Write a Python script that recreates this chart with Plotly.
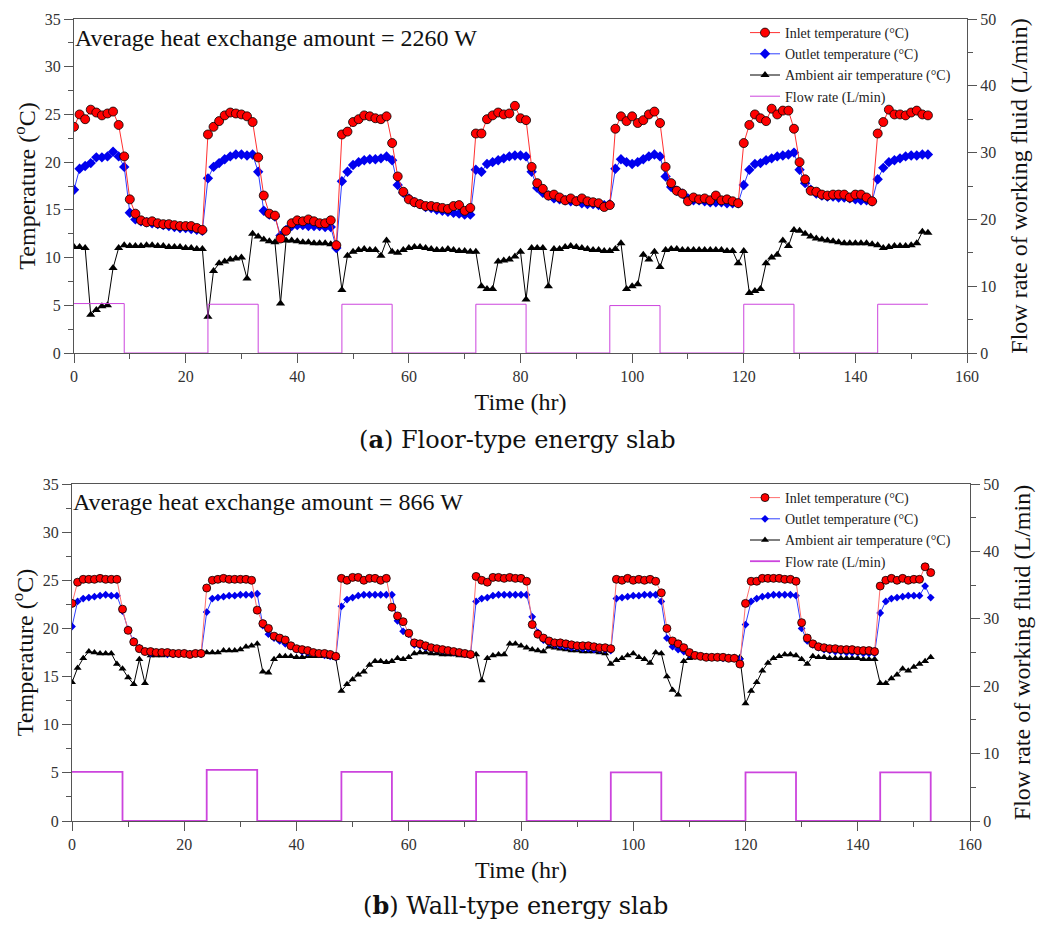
import plotly.graph_objects as go

# ---------------- data ----------------
hours = list(range(0, 154))

# (a) Floor-type energy slab
inlet_a = [23.7, 25.0, 24.5, 25.5, 25.2, 24.9, 25.1, 25.3, 23.9, 20.6,
           16.1, 14.6, 13.9, 13.7, 13.8, 13.6, 13.5, 13.5, 13.4, 13.3,
           13.3, 13.3, 13.1, 12.9, 22.9, 23.7, 24.3, 24.9, 25.2, 25.1,
           25.0, 24.8, 24.2, 20.5, 16.5, 14.6, 14.4, 12.0, 12.8, 13.6,
           13.9, 13.8, 14.0, 13.8, 13.6, 13.6, 13.9, 11.3, 22.9, 23.2,
           24.2, 24.5, 24.9, 24.8, 24.6, 24.5, 24.8, 22.0, 18.5, 16.9,
           16.1, 15.8, 15.6, 15.4, 15.4, 15.3, 15.2, 15.1, 15.4, 15.5,
           14.9, 15.2, 23.0, 23.0, 24.5, 24.9, 25.2, 25.0, 25.1, 25.9,
           24.6, 24.4, 19.5, 17.8, 17.2, 16.5, 16.6, 16.3, 16.0, 16.2,
           15.9, 16.2, 15.9, 15.8, 15.7, 15.3, 15.5, 23.5, 24.8, 24.3,
           24.8, 24.1, 24.4, 25.0, 25.3, 24.1, 19.5, 17.8, 17.0, 16.7,
           15.9, 16.3, 16.1, 16.2, 16.0, 16.5, 16.0, 16.1, 15.9, 15.7,
           22.0, 23.9, 25.0, 24.6, 24.3, 25.6, 25.0, 25.4, 25.4, 23.5,
           20.0, 18.2, 17.0, 16.9, 16.6, 16.5, 16.6, 16.6, 16.6, 16.3,
           16.6, 16.6, 16.3, 15.9, 23.0, 24.2, 25.5, 25.0, 25.0, 24.9,
           25.2, 25.4, 25.0, 24.9]
outlet_a = [17.1, 19.3, 19.6, 19.9, 20.5, 20.5, 20.6, 21.1, 20.6, 19.5,
            14.7, 14.0, 13.8, 13.7, 13.6, 13.5, 13.4, 13.3, 13.2, 13.1,
            13.1, 13.0, 12.9, 12.8, 18.3, 19.5, 19.9, 20.3, 20.6, 20.8,
            20.8, 20.7, 20.8, 19.0, 14.9, 14.5, 14.3, 12.3, 12.9, 13.3,
            13.4, 13.4, 13.3, 13.3, 13.3, 13.2, 13.2, 11.0, 18.0, 19.0,
            19.7, 20.0, 20.2, 20.3, 20.3, 20.4, 20.6, 20.2, 17.6, 16.8,
            16.2, 15.8, 15.6, 15.3, 15.2, 15.0, 14.9, 14.8, 14.7, 14.6,
            14.5, 14.5, 19.2, 19.0, 19.8, 20.0, 20.2, 20.4, 20.6, 20.7,
            20.7, 20.6, 19.0, 17.3, 16.8, 16.5, 16.2, 16.1, 16.0, 15.9,
            15.9, 15.7, 15.6, 15.6, 15.5, 15.5, 15.6, 19.3, 20.3, 20.0,
            19.8, 20.0, 20.3, 20.6, 20.8, 20.6, 18.5, 17.4, 17.0, 16.7,
            16.2, 16.0, 16.0, 15.9, 15.8, 15.8, 15.8, 15.7, 15.7, 15.7,
            17.6, 19.2, 19.8, 19.9, 20.2, 20.4, 20.6, 20.7, 20.8, 21.0,
            19.2, 17.8, 17.1, 16.7, 16.5, 16.4, 16.4, 16.3, 16.3, 16.2,
            16.1, 16.0, 16.0, 15.9, 18.2, 19.4, 20.0, 20.2, 20.4, 20.6,
            20.7, 20.7, 20.8, 20.8]
ambient_a = [11.1, 11.1, 11.0, 4.0, 4.5, 4.9, 5.0, 8.9, 11.0, 11.3,
             11.2, 11.2, 11.2, 11.3, 11.3, 11.2, 11.2, 11.1, 11.1, 11.1,
             11.0, 11.0, 10.9, 10.9, 3.8, 8.6, 9.4, 9.6, 9.8, 9.9,
             10.0, 7.8, 12.5, 12.2, 11.9, 11.7, 11.6, 5.2, 11.8, 11.8,
             11.7, 11.6, 11.6, 11.5, 11.5, 11.5, 11.4, 11.4, 6.6, 10.2,
             10.6, 10.8, 10.9, 10.8, 10.8, 10.2, 11.8, 10.6, 10.5, 10.8,
             11.0, 11.1, 11.1, 11.0, 10.9, 10.8, 10.8, 10.9, 10.8, 10.7,
             10.7, 10.6, 10.6, 7.0, 6.7, 6.7, 9.6, 9.7, 9.8, 10.1,
             10.6, 5.6, 11.0, 11.0, 11.0, 7.0, 10.9, 10.9, 11.1, 11.2,
             11.1, 11.0, 10.9, 10.8, 10.8, 10.7, 10.7, 10.9, 11.5, 6.7,
             7.0, 7.2, 10.3, 9.8, 10.6, 9.0, 10.8, 10.9, 10.9, 10.8,
             10.8, 10.8, 10.8, 10.8, 10.8, 10.8, 10.8, 10.7, 10.7, 9.4,
             10.7, 6.3, 6.5, 6.7, 9.4, 10.0, 10.3, 11.8, 11.2, 12.9,
             12.8, 12.5, 12.2, 12.0, 11.9, 11.8, 11.7, 11.6, 11.5, 11.5,
             11.5, 11.5, 11.5, 11.4, 11.3, 11.0, 11.1, 11.2, 11.2, 11.2,
             11.3, 11.5, 12.7, 12.6]
flow_t_a = [0, 9, 24, 33, 48, 57, 72, 81, 96, 105, 120, 129, 144, 153]
flow_a = [7.4, 0, 7.3, 0, 7.3, 0, 7.3, 0, 7.1, 0, 7.3, 0, 7.3, 7.3]

# (b) Wall-type energy slab
inlet_b = [22.6, 24.8, 25.1, 25.1, 25.1, 25.2, 25.1, 25.1, 25.1, 22.0,
           19.8, 18.6, 17.9, 17.6, 17.6, 17.5, 17.5, 17.5, 17.4, 17.4,
           17.4, 17.3, 17.4, 17.4, 24.2, 25.0, 25.1, 25.2, 25.1, 25.1,
           25.1, 25.1, 25.0, 21.9, 20.5, 20.0, 19.2, 19.0, 18.8, 18.2,
           17.9, 17.8, 17.7, 17.5, 17.4, 17.4, 17.3, 17.1, 25.2, 25.0,
           25.3, 25.3, 25.0, 25.2, 25.2, 25.0, 25.2, 22.2, 21.3, 20.7,
           19.5, 18.5, 18.4, 18.2, 18.0, 17.9, 17.8, 17.7, 17.6, 17.5,
           17.4, 17.3, 25.4, 25.0, 24.8, 25.3, 25.3, 25.2, 25.3, 25.2,
           25.2, 24.9, 20.4, 19.4, 19.0, 18.7, 18.5, 18.5, 18.4, 18.3,
           18.2, 18.2, 18.2, 18.1, 18.0, 18.0, 17.9, 25.1, 25.0, 25.2,
           25.0, 25.1, 25.0, 25.1, 24.9, 23.7, 20.0, 18.7, 18.4, 18.0,
           17.5, 17.2, 17.1, 17.0, 17.0, 17.0, 17.0, 16.9, 16.9, 16.3,
           22.6, 24.9, 24.9, 25.2, 25.2, 25.2, 25.2, 25.1, 25.1, 24.9,
           20.6, 19.0, 18.4, 18.1, 18.0, 17.9, 17.9, 17.8, 17.8, 17.8,
           17.7, 17.7, 17.7, 17.6, 24.4, 25.0, 25.2, 25.0, 25.2, 25.0,
           25.1, 25.1, 26.4, 25.8]
outlet_b = [20.2, 22.8, 23.1, 23.2, 23.3, 23.4, 23.5, 23.4, 23.4, 21.8,
            19.9, 18.7, 18.0, 17.6, 17.4, 17.4, 17.4, 17.3, 17.3, 17.3,
            17.4, 17.3, 17.4, 17.3, 21.7, 23.1, 23.2, 23.3, 23.4, 23.4,
            23.5, 23.5, 23.5, 23.6, 20.3, 19.4, 19.0, 18.7, 18.4, 18.1,
            17.8, 17.6, 17.5, 17.4, 17.3, 17.2, 17.1, 17.0, 22.3, 23.0,
            23.2, 23.4, 23.5, 23.5, 23.5, 23.5, 23.5, 23.5, 20.8, 19.7,
            19.4, 18.3, 18.2, 18.0, 17.9, 17.8, 17.7, 17.6, 17.5, 17.4,
            17.3, 17.2, 22.8, 23.1, 23.2, 23.4, 23.5, 23.5, 23.5, 23.5,
            23.5, 23.5, 21.2, 19.6, 18.8, 18.5, 18.3, 18.2, 18.1, 18.0,
            18.0, 17.9, 17.9, 17.8, 17.8, 17.8, 17.7, 23.1, 23.2, 23.3,
            23.4, 23.4, 23.5, 23.5, 23.5, 22.8, 19.0, 18.1, 17.8, 17.6,
            17.3, 17.2, 17.1, 17.0, 17.0, 17.0, 16.9, 16.9, 16.9, 16.8,
            20.4, 22.8, 23.1, 23.3, 23.4, 23.5, 23.5, 23.5, 23.5, 23.4,
            20.0, 18.7, 18.3, 18.0, 17.8, 17.7, 17.6, 17.6, 17.5, 17.5,
            17.5, 17.4, 17.4, 17.4, 21.6, 22.8, 23.1, 23.2, 23.3, 23.4,
            23.4, 23.4, 24.4, 23.2]
ambient_b = [14.4, 15.9, 16.9, 17.6, 17.5, 17.4, 17.4, 17.4, 16.3, 15.8,
             14.9, 14.2, 16.8, 14.3, 17.2, 17.2, 17.2, 17.3, 17.3, 17.3,
             17.4, 17.4, 17.4, 17.4, 17.5, 17.5, 17.5, 17.7, 17.7, 17.7,
             17.8, 18.1, 18.2, 18.4, 15.5, 15.4, 16.8, 17.1, 17.1, 17.1,
             17.0, 17.0, 17.1, 17.1, 17.1, 17.1, 17.0, 16.9, 13.5, 14.2,
             14.7, 15.2, 15.5, 16.2, 16.6, 16.6, 16.5, 16.6, 16.9, 16.8,
             17.0, 17.4, 17.5, 17.5, 17.4, 17.4, 17.3, 17.3, 17.3, 17.2,
             17.2, 17.1, 17.3, 14.6, 16.9, 17.2, 17.3, 17.3, 18.4, 18.4,
             18.2, 18.0, 17.8, 17.7, 17.6, 18.1, 18.0, 17.9, 17.8, 17.7,
             17.7, 17.6, 17.6, 17.6, 17.5, 17.4, 16.3, 16.7, 16.9, 17.2,
             17.4, 17.0, 16.8, 16.4, 17.5, 17.4, 15.0, 13.6, 13.1, 16.6,
             16.9, 17.2, 17.1, 17.1, 17.0, 17.0, 17.0, 17.0, 17.0, 17.0,
             12.2, 13.5, 14.4, 15.6, 16.4, 16.9, 17.1, 17.3, 17.3, 17.2,
             16.8, 16.3, 17.1, 17.0, 17.0, 16.9, 16.9, 16.9, 16.9, 16.9,
             16.9, 16.8, 16.8, 16.8, 14.3, 14.3, 14.8, 15.2, 15.8, 15.6,
             16.0, 16.3, 16.6, 17.0]
flow_t_b = [0, 9, 24, 33, 48, 57, 72, 81, 96, 105, 120, 129, 144, 153]
flow_b = [7.3, 0, 7.6, 0, 7.3, 0, 7.3, 0, 7.2, 0, 7.2, 0, 7.2, 0]

names = ["Inlet temperature (\u00b0C)", "Outlet temperature (\u00b0C)",
         "Ambient air temperature (\u00b0C)", "Flow rate (L/min)"]
heat_a = "Average heat exchange amount = 2260 W"
heat_b = "Average heat exchange amount = 866 W"
caption_a = "(<b>a</b>) Floor-type energy slab"
caption_b = "(<b>b</b>) Wall-type energy slab"

# ---------------- figure ----------------
FONT = "Times New Roman, Liberation Serif, serif"
CAPFONT = "DejaVu Serif, Liberation Serif, serif"
# the page body adds an 8 px offset, so the figure is laid out 8 px smaller
W, H = 1048, 917
fig = go.Figure()

def add_panel(xa, ya, ya2, leg, inlet, outlet, ambient, ft, fl, big):
    fig.add_trace(go.Scatter(x=ft, y=fl, mode="lines", line=dict(color="#CC44DD", width=1.0 if big else 1.8, shape="hv"),
                             name=names[3], xaxis=xa, yaxis=ya2, legend=leg, legendrank=4))
    fig.add_trace(go.Scatter(x=hours, y=ambient, mode="lines+markers", line=dict(color="#000000", width=1),
                             marker=dict(symbol="triangle-up", size=8 if big else 7, color="#000000"),
                             name=names[2], xaxis=xa, yaxis=ya, legend=leg, legendrank=3))
    fig.add_trace(go.Scatter(x=hours, y=outlet, mode="lines+markers", line=dict(color="#3040FF", width=1),
                             marker=dict(symbol="diamond", size=8 if big else 6, color="#0000EE"),
                             name=names[1], xaxis=xa, yaxis=ya, legend=leg, legendrank=2))
    fig.add_trace(go.Scatter(x=hours, y=inlet, mode="lines+markers", line=dict(color="#FF3030" if big else "#FF7070", width=1),
                             marker=dict(symbol="circle", size=9 if big else 8, color="#FF0000",
                                         line=dict(color="#000000", width=0.8)),
                             name=names[0], xaxis=xa, yaxis=ya, legend=leg, legendrank=1))

add_panel("x", "y", "y2", "legend", inlet_a, outlet_a, ambient_a, flow_t_a, flow_a, True)
add_panel("x2", "y3", "y4", "legend2", inlet_b, outlet_b, ambient_b, flow_t_b, flow_b, False)

AX = "#555555"
tickfont = dict(family=FONT, size=16, color="#333333")
titlefont = dict(family=FONT, size=24, color="#111111")

def xaxis(dom, anchor):
    return dict(domain=dom, anchor=anchor, range=[0, 160], dtick=20, tick0=0, showgrid=False, zeroline=False,
                automargin=False,
                showline=True, linecolor=AX, linewidth=1.3, mirror=True, ticks="outside", ticklen=9,
                tickcolor=AX, tickwidth=1.2, tickfont=tickfont,
                minor=dict(dtick=10, ticks="outside", ticklen=5, tickcolor=AX, tickwidth=1.2),
                title=dict(text="Time (hr)", font=titlefont, standoff=8))

def yleft(dom, anchor):
    return dict(domain=dom, anchor=anchor, range=[0, 35], dtick=5, showgrid=False, zeroline=False,
                automargin=False,
                showline=True, linecolor=AX, linewidth=1.3, ticks="outside", ticklen=9,
                tickcolor=AX, tickwidth=1.2, tickfont=tickfont,
                minor=dict(dtick=2.5, ticks="outside", ticklen=5, tickcolor=AX, tickwidth=1.2),
                title=dict(text="Temperature (<sup>o</sup>C)", font=titlefont, standoff=2))

def yright(overlay, anchor):
    return dict(overlaying=overlay, anchor=anchor, side="right", range=[0, 50], dtick=10, showgrid=False,
                automargin=False,
                zeroline=False, showline=True, linecolor=AX, linewidth=1.3, ticks="outside", ticklen=9,
                tickcolor=AX, tickwidth=1.2, tickfont=tickfont,
                minor=dict(dtick=5, ticks="outside", ticklen=5, tickcolor=AX, tickwidth=1.2),
                title=dict(text="Flow rate of working fluid (L/min)", font=titlefont, standoff=14))

def leg(ypx):
    return dict(x=737 / W, y=1 - ypx / H, xanchor="left", yanchor="top", bgcolor="rgba(0,0,0,0)",
                font=dict(family=FONT, size=14, color="#222222"), tracegroupgap=0, itemsizing="trace")

fig.update_layout(
    width=W, height=H, margin=dict(l=0, r=0, t=0, b=0, autoexpand=False),
    paper_bgcolor="white", plot_bgcolor="white", showlegend=True,
    xaxis=xaxis([66 / W, 959 / W], "y"),
    yaxis=yleft([1 - 345 / H, 1 - 11 / H], "x"),
    yaxis2=yright("y", "x"),
    xaxis2=xaxis([64 / W, 962 / W], "y3"),
    yaxis3=yleft([1 - 813 / H, 1 - 476 / H], "x2"),
    yaxis4=yright("y3", "x2"),
    legend=leg(9),
    legend2=leg(474),
    annotations=[
        dict(text=heat_a, xref="paper", yref="paper", x=65 / W, y=1 - 30 / H, xanchor="left", yanchor="middle",
             showarrow=False, font=dict(family=FONT, size=24, color="#111111")),
        dict(text=heat_b, xref="paper", yref="paper", x=63 / W, y=1 - 494 / H, xanchor="left", yanchor="middle",
             showarrow=False, font=dict(family=FONT, size=24, color="#111111")),
        dict(text=caption_a, xref="paper", yref="paper", x=509 / W, y=1 - 432 / H, xanchor="center",
             yanchor="middle", showarrow=False, font=dict(family=CAPFONT, size=24, color="#111111")),
        dict(text=caption_b, xref="paper", yref="paper", x=507 / W, y=1 - 897 / H, xanchor="center",
             yanchor="middle", showarrow=False, font=dict(family=CAPFONT, size=24, color="#111111")),
    ],
)

fig.write_html("out.html")
